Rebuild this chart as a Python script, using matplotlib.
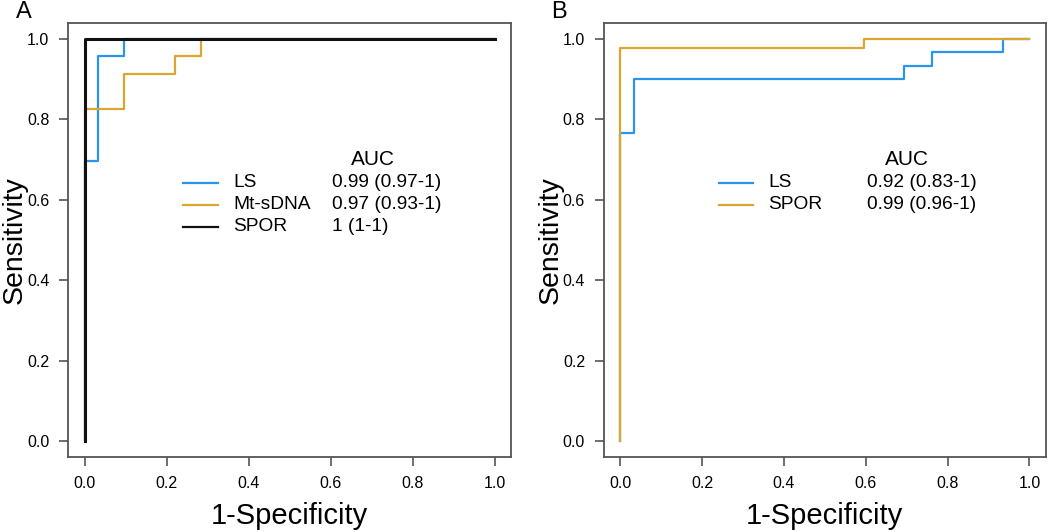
import matplotlib
matplotlib.use("Agg")
from matplotlib import pyplot as plt

plt.rcParams['font.family'] = ['Liberation Sans', 'DejaVu Sans']

# Panel A curves (1-specificity, sensitivity)
a_ls_x = [0, 0, 0.032, 0.032, 0.095, 0.095, 1]
a_ls_y = [0, 0.696, 0.696, 0.957, 0.957, 1, 1]
a_mt_x = [0, 0, 0.095, 0.095, 0.22, 0.22, 0.283, 0.283, 1]
a_mt_y = [0, 0.826, 0.826, 0.913, 0.913, 0.957, 0.957, 1, 1]
a_spor_x = [0, 0, 1]
a_spor_y = [0, 1, 1]

# Panel B curves
b_ls_x = [0, 0, 0.034, 0.034, 0.693, 0.693, 0.762, 0.762, 0.936, 0.936, 1]
b_ls_y = [0, 0.767, 0.767, 0.9, 0.9, 0.933, 0.933, 0.967, 0.967, 1, 1]
b_spor_x = [0, 0, 0.597, 0.597, 1]
b_spor_y = [0, 0.978, 0.978, 1, 1]

a_names = ["LS", "Mt-sDNA", "SPOR"]
a_auc = ["0.99 (0.97-1)", "0.97 (0.93-1)", "1 (1-1)"]
b_names = ["LS", "SPOR"]
b_auc = ["0.92 (0.83-1)", "0.99 (0.96-1)"]

blue = "#2b95ec"
gold = "#dca52e"
black = "#111111"
edge = "#555555"

ticks = [0, 0.2, 0.4, 0.6, 0.8, 1.0]

fig = plt.figure(figsize=(10.5, 5.32), dpi=100)
axA = fig.add_axes([0.065, 0.141, 0.422, 0.816])
axB = fig.add_axes([0.575, 0.141, 0.421, 0.816])


def style(ax, letter):
    ax.set_xlim(-0.04, 1.04)
    ax.set_ylim(-0.04, 1.04)
    ax.set_xticks(ticks)
    ax.set_yticks(ticks)
    ax.set_xticklabels([f"{t:.1f}" for t in ticks])
    ax.set_yticklabels([f"{t:.1f}" for t in ticks])
    ax.tick_params(direction="out", length=6.5, width=1.2, color=edge,
                   labelsize=11.5, pad=7)
    for s in ax.spines.values():
        s.set_color(edge)
        s.set_linewidth(1.3)
    ax.set_xlabel("1-Specificity", fontsize=21)
    ax.set_ylabel("Sensitivity", fontsize=20.5)
    ax.xaxis.set_label_coords(0.5, -0.103)
    ax.yaxis.set_label_coords(-0.091, 0.5)
    ax.text(-0.118, 1.024, letter, transform=ax.transAxes, fontsize=17,
            ha="left", va="center")


def legend(ax, names, aucs, colors):
    ax.text(0.637, 0.686, "AUC", transform=ax.transAxes, fontsize=15,
            ha="left", va="center")
    for i, (n, a, c) in enumerate(zip(names, aucs, colors)):
        y = 0.632 - i * 0.051
        ax.plot([0.26, 0.338], [y, y], color=c, lw=1.6, transform=ax.transAxes)
        ax.text(0.372, y, n, transform=ax.transAxes, fontsize=13.8,
                ha="left", va="center")
        ax.text(0.596, y, a, transform=ax.transAxes, fontsize=13.8,
                ha="left", va="center")


axA.plot(a_ls_x, a_ls_y, color=blue, lw=1.6)
axA.plot(a_mt_x, a_mt_y, color=gold, lw=1.6)
axA.plot(a_spor_x, a_spor_y, color=black, lw=2.2)
style(axA, "A")
legend(axA, a_names, a_auc, [blue, gold, black])

axB.plot(b_ls_x, b_ls_y, color=blue, lw=1.6)
axB.plot(b_spor_x, b_spor_y, color=gold, lw=1.6)
style(axB, "B")
legend(axB, b_names, b_auc, [blue, gold])

plt.savefig("out.png", dpi=100)
